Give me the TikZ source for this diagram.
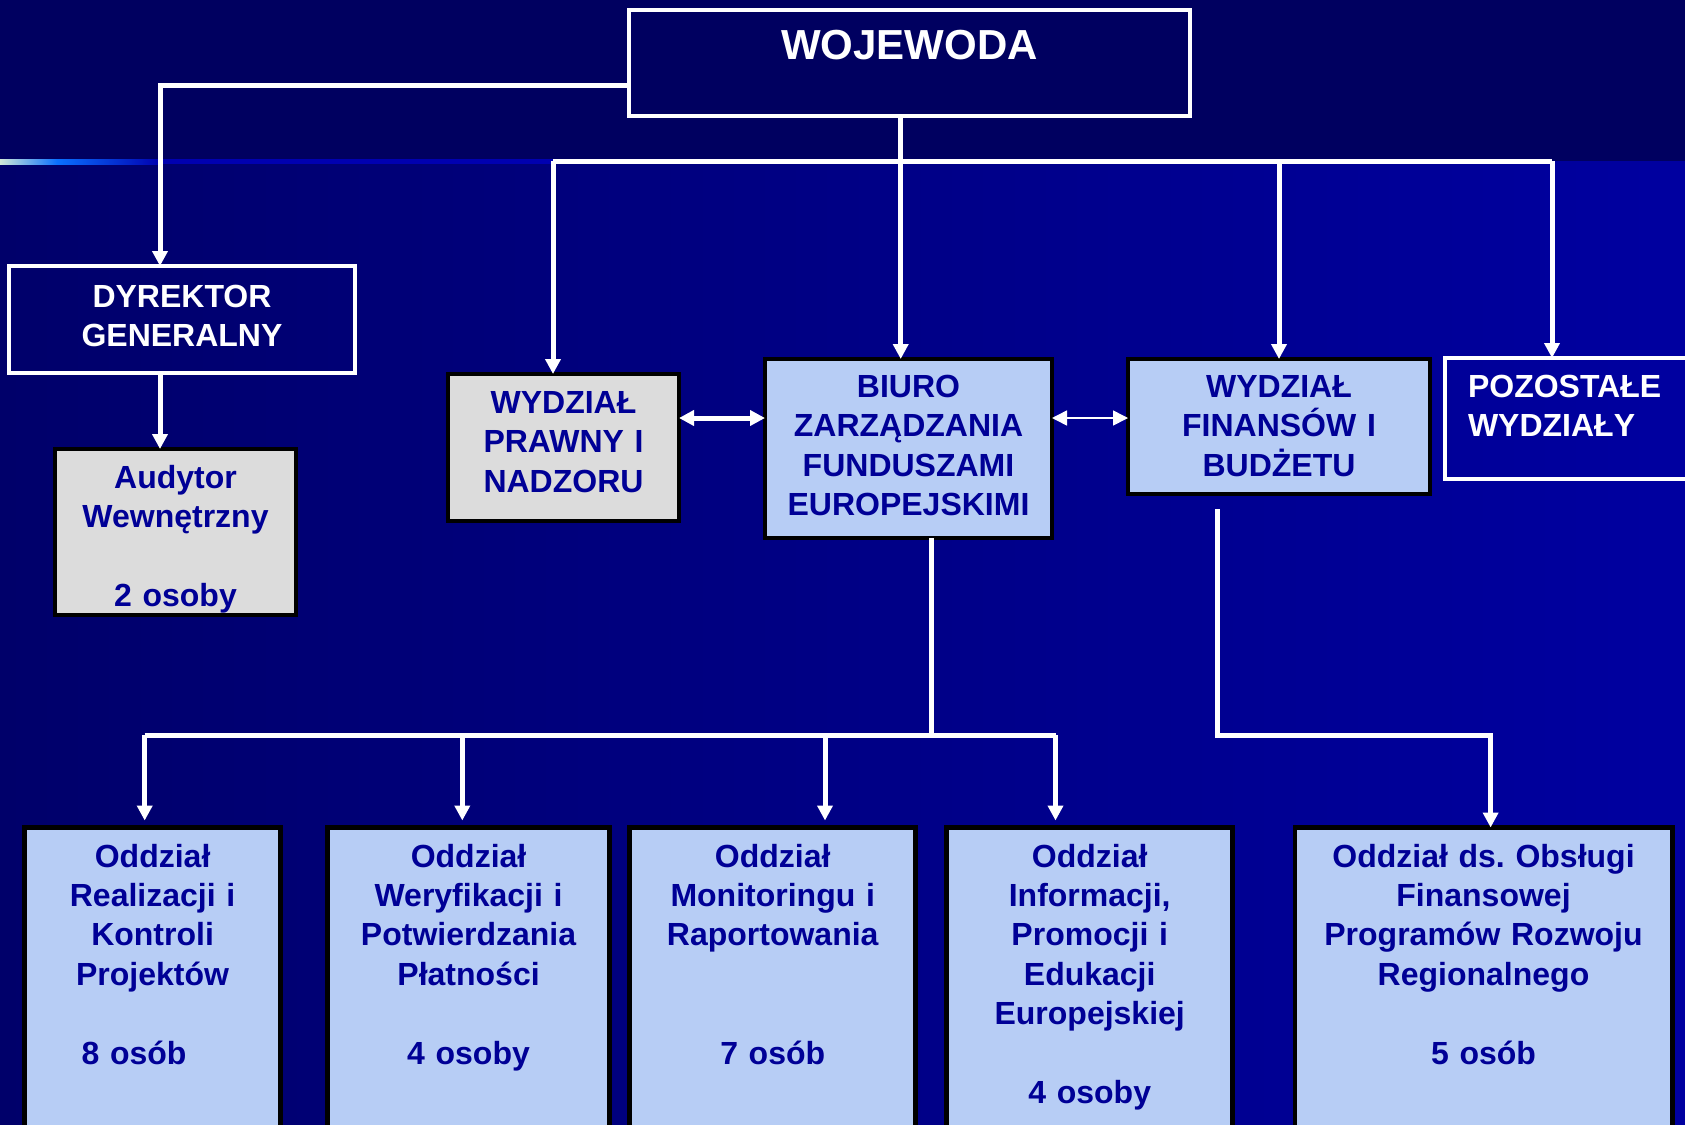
\documentclass[tikz,border=0pt]{standalone}
\usepackage{fontspec}
\setmainfont{Liberation Sans}
\usetikzlibrary{arrows.meta}
\frenchspacing

\definecolor{bandtop}{RGB}{0,0,96}
\definecolor{bandleft}{RGB}{0,0,106}
\definecolor{bandright}{RGB}{0,0,160}
\definecolor{textblue}{RGB}{0,0,150}
\definecolor{boxblue}{RGB}{183,205,245}
\definecolor{boxgray}{RGB}{220,220,220}
\definecolor{glowwhite}{RGB}{208,232,216}
\definecolor{glowblue}{RGB}{10,112,255}
\definecolor{glownavy}{RGB}{0,0,176}

\begin{document}
\begin{tikzpicture}[x=0.5pt, y=-0.5pt,
  box/.style={anchor=north west, inner sep=0pt, outer sep=0pt, align=center, line width=2.4pt,
    font=\fontsize{16pt}{19.7pt}\selectfont\bfseries},
  darkbox/.style={box, draw=white, text=white},
  graybox/.style={box, draw=black, fill=boxgray, text=textblue},
  bluebox/.style={box, draw=black, fill=boxblue, text=textblue},
  line/.style={draw=white, line width=2.5pt},
  conn/.style={line, -{Triangle[width=7.5pt,length=7.5pt]}},
  dconn/.style={line, {Triangle[width=7.5pt,length=7.5pt]}-{Triangle[width=7.5pt,length=7.5pt]}}]

\useasboundingbox (0,0) rectangle (1685,1124);
% background
\fill[bandtop] (0,0) rectangle (1685,161);
\shade[left color=bandleft, right color=bandright] (0,161) rectangle (1685,1124);
\shade[left color=glowwhite, right color=glowblue] (0,159) rectangle (57,164);
\shade[left color=glowblue, right color=glownavy] (57,159) rectangle (160,164);
\fill[glownavy] (160,159) rectangle (553,164);

% top level
\node[darkbox, fill=bandtop, font=\fontsize{21pt}{25pt}\selectfont\bfseries,
  text width=280.5pt, text height=24.5pt, text depth=28.5pt] (woj) at (629,10) {WOJEWODA};
\node[darkbox, text width=173pt, text height=20.5pt, text depth=33pt] (dyr) at (9,266) {DYREKTOR\\GENERALNY};
\node[graybox, text width=120.5pt, text height=19.75pt, text depth=63.25pt] (aud) at (55,449) {Audytor\\Wewnętrzny\\[19.7pt]2 osoby};

% departments
\node[graybox, text width=115.5pt, text height=19.75pt, text depth=53.75pt] (praw) at (448,374) {WYDZIAŁ\\PRAWNY I\\NADZORU};
\node[bluebox, text width=143.5pt, text height=19.25pt, text depth=70.25pt] (biuro) at (765,359) {BIURO\\ZARZĄDZANIA\\FUNDUSZAMI\\EUROPEJSKIMI};
\node[bluebox, text width=151pt, text height=19.25pt, text depth=48.25pt] (fin) at (1128,359) {WYDZIAŁ\\FINANSÓW I\\BUDŻETU};
\node[darkbox, align=left, inner xsep=11.5pt, text width=114.5pt, text height=19.75pt, text depth=40.75pt] (poz) at (1445,358) {POZOSTAŁE\\WYDZIAŁY};

% sections
\node[bluebox, text width=127.9pt, text height=19.75pt, text depth=141.5pt] (odz1) at (24.7,827.5) {Oddział\\Realizacji i\\Kontroli\\Projektów\\[19.7pt]8 osób\hspace*{18.5pt}};
\node[bluebox, text width=140.75pt, text height=19.75pt, text depth=141.5pt] (odz2) at (327.8,827.5) {Oddział\\Weryfikacji i\\Potwierdzania\\Płatności\\[19.7pt]4 osoby};
\node[bluebox, text width=143pt, text height=19.75pt, text depth=141.5pt] (odz3) at (629.7,827.5) {Oddział\\Monitoringu i\\Raportowania\\[39.4pt]7 osób};
\node[bluebox, text width=143pt, text height=19.75pt, text depth=141.5pt] (odz4) at (946.7,827.5) {Oddział\\Informacji,\\Promocji i\\Edukacji\\Europejskiej\\[19.7pt]4 osoby};
\node[bluebox, text width=188.6pt, text height=19.75pt, text depth=141.5pt] (odz5) at (1294.9,827.5) {Oddział ds. Obsługi\\Finansowej\\Programów Rozwoju\\Regionalnego\\[19.7pt]5 osób};

% junctions
\coordinate (jdyr) at (160,85);
\coordinate (jtop) at (900.7,161);
\coordinate (jpraw) at (553,161);
\coordinate (jfin) at (1279,161);
\coordinate (jpoz) at (1552,161);
\coordinate (jmid) at (700,418);
\coordinate (jbiuro) at (931,735);
\coordinate (jo1) at (144.7,735);
\coordinate (jo2) at (462.3,735);
\coordinate (jo3) at (825,735);
\coordinate (jo4) at (1055.5,735);
\coordinate (jfs) at (1217.4,509);
\coordinate (jo5) at (1490.6,735);

% connectors
\draw[conn] (woj.west |- jdyr) -- (jdyr) -- (jdyr |- dyr.north);
\draw[conn] (jdyr |- dyr.south) -- (jdyr |- aud.north);
\draw[conn] (jtop |- woj.south) -- (jtop |- biuro.north);
\draw[line] (jpraw) -- (jpoz);
\draw[conn] (jpraw) -- (jpraw |- praw.north);
\draw[conn] (jfin) -- (jfin |- fin.north);
\draw[conn] (jpoz) -- (jpoz |- poz.north);
\draw[dconn] (praw.east |- jmid) -- (biuro.west |- jmid);
\draw[dconn, line width=0.8pt] (biuro.east |- jmid) -- (fin.west |- jmid);
\draw[line] (jbiuro |- biuro.south) -- (jbiuro);
\draw[line] (jo1) -- (jo4);
\draw[conn, shorten >=3.5pt] (jo1) -- (jo1 |- odz1.north);
\draw[conn, shorten >=3.5pt] (jo2) -- (jo2 |- odz2.north);
\draw[conn, shorten >=3.5pt] (jo3) -- (jo3 |- odz3.north);
\draw[conn, shorten >=3.5pt] (jo4) -- (jo4 |- odz4.north);
\draw[conn] (jfs) |- (jo5) -- (jo5 |- odz5.north);

\end{tikzpicture}
\end{document}
